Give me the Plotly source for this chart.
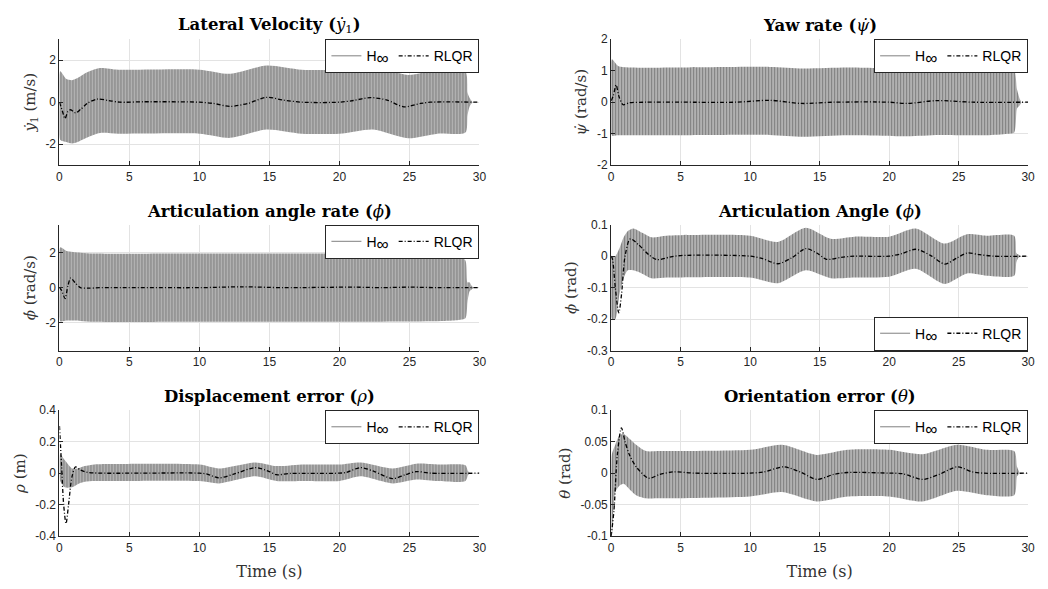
import plotly.graph_objects as go

# ---------------- data ----------------
X_TICKS = [0, 5, 10, 15, 20, 25, 30]
X_TICK_LABELS = ["0", "5", "10", "15", "20", "25", "30"]

# Panel 1: lateral velocity  (H-infinity envelope + RLQR)
T_YDOT_H = [0, 0.05, 0.5, 0.9, 1.3, 1.9, 2.9, 4.2, 10, 12.2, 14.8, 17.3, 20, 22.4, 24.9, 27, 29.0, 29.15, 29.3, 29.5]
UP_YDOT = [0, 1.47, 1.1, 1.05, 1.15, 1.4, 1.63, 1.55, 1.55, 1.35, 1.75, 1.55, 1.55, 1.72, 1.3, 1.55, 1.45, 0.46, 0.2, 0]
LO_YDOT = [0, -1.79, -1.9, -1.97, -1.9, -1.71, -1.47, -1.5, -1.5, -1.7, -1.3, -1.5, -1.5, -1.3, -1.72, -1.5, -1.45, -0.62, -0.2, 0]
T_YDOT_R = [0, 0.2, 0.4, 0.6, 0.8, 1.15, 1.5, 2.0, 2.7, 3.5, 4.3, 6, 10, 11, 12.2, 13.5, 14.8, 16, 17.3, 20, 21, 22.2, 23.4, 24.6, 25.8, 26.5, 30]
V_YDOT_R = [0, -0.4, -0.78, -0.45, -0.36, -0.51, -0.35, -0.05, 0.15, 0.08, 0.0, 0.02, 0.0, -0.06, -0.2, -0.05, 0.23, 0.1, 0.0, 0.0, 0.08, 0.22, 0.1, -0.22, -0.06, 0.0, 0.0]

# Panel 2: yaw rate
T_PSID_H = [0, 0.05, 0.5, 1.5, 5, 11.4, 13.8, 17, 21.3, 23.6, 27, 28.5, 29.0, 29.2, 29.4, 29.5]
UP_PSID = [0, 1.36, 1.15, 1.1, 1.1, 1.12, 1.07, 1.1, 1.07, 1.1, 1.1, 1.05, 1.0, 0.4, 0.1, 0]
LO_PSID = [0, -1.06, -1.05, -1.05, -1.05, -1.04, -1.1, -1.05, -1.08, -1.04, -1.05, -1.0, -0.96, -0.2, -0.1, 0]
T_PSID_R = [0, 0.15, 0.36, 0.55, 0.86, 1.3, 2.5, 5, 9, 11.4, 13.7, 16, 20, 21.3, 23.4, 26, 30]
V_PSID_R = [0.05, 0.2, 0.55, 0.2, -0.08, -0.02, 0.0, 0.0, 0.0, 0.06, -0.04, 0.0, 0.0, -0.04, 0.05, 0.0, 0.0]

# Panel 3: articulation angle rate
T_PHID_H = [0, 0.05, 0.5, 1.5, 2.5, 10, 20, 27.5, 28.5, 29.0, 29.15, 29.3, 29.45, 29.6]
UP_PHID = [0, 2.3, 2.1, 2.0, 1.95, 1.95, 1.95, 1.95, 1.85, 1.55, 0.3, 0.3, 0.1, 0]
LO_PHID = [0, -1.92, -1.88, -1.9, -1.95, -1.95, -1.95, -1.9, -1.85, -1.75, -0.8, -0.2, -0.1, 0]
T_PHID_R = [0, 0.15, 0.4, 0.6, 0.8, 1.1, 1.5, 2.0, 3, 10, 13, 16, 21, 23, 25, 27, 30]
V_PHID_R = [0, -0.15, -0.62, 0.1, 0.55, 0.3, 0.0, -0.03, 0.0, 0.0, 0.05, 0.0, 0.03, 0.0, 0.03, 0.0, 0.0]

# Panel 4: articulation angle
T_PHI_H = [0, 0.05, 0.3, 0.6, 0.9, 1.2, 1.6, 2.2, 2.9, 4, 10, 12.0, 14.0, 15.8, 17.5, 20, 21.9, 24.0, 25.6, 27, 29.0, 29.15, 29.3, 29.5]
UP_PHI = [0, 0.0, 0.0, 0.025, 0.06, 0.08, 0.088, 0.075, 0.06, 0.065, 0.065, 0.045, 0.09, 0.055, 0.062, 0.062, 0.088, 0.04, 0.07, 0.065, 0.065, 0.01, 0.005, 0]
LO_PHI = [0, -0.2, -0.2, -0.12, -0.07, -0.045, -0.045, -0.055, -0.07, -0.068, -0.068, -0.086, -0.045, -0.07, -0.068, -0.065, -0.04, -0.088, -0.055, -0.062, -0.062, -0.02, -0.005, 0]
T_PHI_R = [0, 0.1, 0.3, 0.55, 0.75, 1.0, 1.38, 2.0, 2.7, 3.3, 4.2, 5, 10, 10.9, 12.0, 13.0, 14.0, 14.8, 15.5, 16.5, 17.5, 20, 20.9, 21.9, 23, 24.0, 24.9, 25.6, 26.5, 27.5, 30]
V_PHI_R = [0, -0.01, -0.1, -0.18, -0.12, 0.0, 0.055, 0.035, 0.005, -0.011, -0.003, 0.002, 0.0, -0.008, -0.024, -0.005, 0.024, 0.01, -0.01, -0.004, 0.0, 0.0, 0.008, 0.022, 0.002, -0.025, -0.005, 0.01, 0.005, 0.0, 0.0]

# Panel 5: displacement error
T_RHO_H = [0, 0.05, 0.4, 0.9, 1.3, 1.8, 2.5, 3.5, 10, 11.4, 14, 15.5, 17.5, 20, 21.5, 23.8, 25.5, 27, 29.0, 29.2, 29.4]
UP_RHO = [0, 0.12, 0.08, 0.03, 0.03, 0.045, 0.055, 0.058, 0.055, 0.03, 0.068, 0.045, 0.055, 0.055, 0.068, 0.03, 0.06, 0.055, 0.05, 0.01, 0]
LO_RHO = [0, -0.05, -0.09, -0.09, -0.07, -0.055, -0.05, -0.05, -0.05, -0.065, -0.02, -0.05, -0.05, -0.05, -0.02, -0.065, -0.04, -0.05, -0.05, -0.01, 0]
T_RHO_R = [0, 0.15, 0.3, 0.47, 0.65, 0.9, 1.15, 1.5, 2.0, 3, 10, 10.5, 11.4, 12.5, 14, 15, 15.5, 16.5, 20, 20.5, 21.5, 22.5, 23.8, 24.7, 25.5, 26.5, 30]
V_RHO_R = [0.3, 0.05, -0.2, -0.32, -0.2, -0.02, 0.04, 0.02, 0.005, 0.0, 0.0, -0.005, -0.03, -0.005, 0.035, 0.01, -0.01, -0.002, 0.0, 0.005, 0.035, 0.01, -0.035, -0.01, 0.01, 0.0, 0.0]

# Panel 6: orientation error
T_TH_H = [0, 0.05, 0.3, 0.6, 0.9, 1.3, 1.8, 2.5, 3.5, 10, 12.3, 14.8, 17, 20, 22.4, 24.9, 27, 29.0, 29.2, 29.4]
UP_TH = [0, 0.03, 0.045, 0.06, 0.062, 0.055, 0.045, 0.035, 0.035, 0.037, 0.045, 0.029, 0.037, 0.037, 0.03, 0.045, 0.037, 0.035, 0.01, 0]
LO_TH = [0, -0.1, -0.03, -0.02, -0.017, -0.025, -0.035, -0.04, -0.04, -0.037, -0.03, -0.045, -0.037, -0.037, -0.045, -0.028, -0.035, -0.035, -0.005, 0]
T_TH_R = [0, 0.2, 0.45, 0.74, 1.0, 1.3, 1.8, 2.7, 3.5, 4.5, 6, 10, 11, 12.4, 13.6, 14.8, 16, 17, 20, 21, 22.4, 23.6, 24.9, 26, 26.8, 30]
V_TH_R = [-0.1, -0.06, 0.03, 0.072, 0.05, 0.03, 0.01, -0.008, -0.002, 0.002, 0.0, 0.0, 0.002, 0.01, 0.002, -0.01, -0.002, 0.001, 0.0, -0.001, -0.01, -0.002, 0.01, 0.002, 0.0, 0.0]

TITLES = [
    "<b>Lateral Velocity (</b><i>ẏ</i><sub>1</sub><b>)</b>",
    "<b>Yaw rate (</b><i>ψ̇</i><b>)</b>",
    "<b>Articulation angle rate (</b><i>ϕ̇</i><b>)</b>",
    "<b>Articulation Angle (</b><i>ϕ</i><b>)</b>",
    "<b>Displacement error (</b><i>ρ</i><b>)</b>",
    "<b>Orientation error (</b><i>θ</i><b>)</b>",
]
Y_LABELS = [
    "<i>ẏ</i><sub>1</sub> (m/s)",
    "<i>ψ̇</i> (rad/s)",
    "<i>ϕ̇</i> (rad/s)",
    "<i>ϕ</i> (rad)",
    "<i>ρ</i> (m)",
    "<i>θ</i> (rad)",
]
Y_RANGES = [[-3, 3], [-2, 2], [-3.6, 3.6], [-0.3, 0.1], [-0.4, 0.4], [-0.1, 0.1]]
Y_TICKS = [[-2, 0, 2], [-2, -1, 0, 1, 2], [-2, 0, 2], [-0.3, -0.2, -0.1, 0, 0.1],
           [-0.4, -0.2, 0, 0.2, 0.4], [-0.1, -0.05, 0, 0.05, 0.1]]
Y_TICK_LABELS = [["-2", "0", "2"], ["-2", "-1", "0", "1", "2"], ["-2", "0", "2"],
                 ["-0.3", "-0.2", "-0.1", "0", "0.1"], ["-0.4", "-0.2", "0", "0.2", "0.4"],
                 ["-0.1", "-0.05", "0", "0.05", "0.1"]]
SERIES_NAMES = ["H<sub><span style='font-size:17px'>∞</span></sub>", "RLQR"]

HINF = [(T_YDOT_H, UP_YDOT, LO_YDOT), (T_PSID_H, UP_PSID, LO_PSID), (T_PHID_H, UP_PHID, LO_PHID),
        (T_PHI_H, UP_PHI, LO_PHI), (T_RHO_H, UP_RHO, LO_RHO), (T_TH_H, UP_TH, LO_TH)]
RLQR = [(T_YDOT_R, V_YDOT_R), (T_PSID_R, V_PSID_R), (T_PHID_R, V_PHID_R),
        (T_PHI_R, V_PHI_R), (T_RHO_R, V_RHO_R), (T_TH_R, V_TH_R)]

# ---------------- layout ----------------
W, H = 1048, 589
X_DOM = [[57 / W, 481 / W], [614 / W, 1035 / W]]
Y_DOM = [[1 - 162 / H, 1 - 33 / H], [1 - 352 / H, 1 - 223 / H], [1 - 542 / H, 1 - 413 / H]]
TITLE_Y = [1 - 19 / H, 1 - 209 / H, 1 - 399 / H]

SERIF = "DejaVu Serif, Liberation Serif, serif"
SANS = "Liberation Sans, Arial, sans-serif"
AX_COLOR = "#262626"
GRID = "#e3e3e3"
HINF_COLOR = "#808080"

fig = go.Figure()
annotations = []

for i in range(6):
    r, c = divmod(i, 2)
    sfx = "" if i == 0 else str(i + 1)
    xa, ya, lg = "x" + sfx, "y" + sfx, "legend" + sfx
    th, up, lo = HINF[i]
    tr, vr = RLQR[i]

    fig.add_trace(go.Scatter(x=th, y=lo, xaxis=xa, yaxis=ya, mode="lines",
                             line=dict(width=0, shape="spline", smoothing=0.7, color=HINF_COLOR),
                             hoverinfo="skip", showlegend=False, legend=lg))
    fig.add_trace(go.Scatter(x=th, y=up, xaxis=xa, yaxis=ya, mode="lines",
                             line=dict(width=0, shape="spline", smoothing=0.7, color=HINF_COLOR),
                             fill="tonexty", fillcolor="rgba(0,0,0,0)",
                             fillpattern=dict(shape="|", size=3, solidity=0.6,
                                              fgcolor="#7f7f7f", bgcolor="#d2d2d2",
                                              fillmode="replace"),
                             hoverinfo="skip", showlegend=False, legend=lg))
    # legend entry for the H-infinity response
    fig.add_trace(go.Scatter(x=[None], y=[None], xaxis=xa, yaxis=ya, mode="lines",
                             line=dict(width=1, color=HINF_COLOR), name=SERIES_NAMES[0],
                             legend=lg, showlegend=True))
    fig.add_trace(go.Scatter(x=tr, y=vr, xaxis=xa, yaxis=ya, mode="lines",
                             line=dict(width=1.3, color="black", dash="4px,2px,1px,2px",
                                       shape="spline", smoothing=0.8),
                             name=SERIES_NAMES[1], legend=lg, showlegend=True))

    xaxis = dict(domain=X_DOM[c], anchor=ya, range=[0, 30], tickmode="array",
                 tickvals=X_TICKS, ticktext=X_TICK_LABELS, showgrid=True, gridcolor=GRID,
                 gridwidth=1, zeroline=False, showline=True, linecolor=AX_COLOR, linewidth=1,
                 ticks="inside", ticklen=4, tickcolor=AX_COLOR, mirror=False,
                 tickfont=dict(family=SANS, size=12, color=AX_COLOR))
    if r == 2:
        xaxis["title"] = dict(text="Time (s)", font=dict(family=SERIF, size=16, color="#333333"),
                              standoff=12)
    yaxis = dict(domain=Y_DOM[r], anchor=xa, range=Y_RANGES[i], tickmode="array",
                 tickvals=Y_TICKS[i], ticktext=Y_TICK_LABELS[i], showgrid=True, gridcolor=GRID,
                 gridwidth=1, zeroline=False, showline=True, linecolor=AX_COLOR, linewidth=1,
                 ticks="inside", ticklen=4, tickcolor=AX_COLOR, mirror=False,
                 tickfont=dict(family=SANS, size=12, color=AX_COLOR),
                 title=dict(text=Y_LABELS[i], font=dict(family=SERIF, size=15, color="#333333"),
                            standoff=6))
    fig.layout["xaxis" + sfx] = xaxis
    fig.layout["yaxis" + sfx] = yaxis

    bottom_legend = (i == 3)
    fig.layout[lg] = dict(x=X_DOM[c][1], xanchor="right",
                          y=Y_DOM[r][0] if bottom_legend else Y_DOM[r][1],
                          yanchor="bottom" if bottom_legend else "top",
                          orientation="h", bgcolor="white", bordercolor=AX_COLOR, borderwidth=1,
                          font=dict(family=SANS, size=14, color="black"),
                          itemwidth=30, tracegroupgap=0, traceorder="normal")

    annotations.append(dict(text=TITLES[i], xref="paper", yref="paper",
                            x=(X_DOM[c][0] + X_DOM[c][1]) / 2, y=TITLE_Y[r],
                            xanchor="center", yanchor="middle", showarrow=False,
                            font=dict(family=SERIF, size=16.5, color="black")))

fig.update_layout(width=W, height=H, margin=dict(l=0, r=0, t=0, b=0),
                  paper_bgcolor="white", plot_bgcolor="white",
                  annotations=annotations, hovermode=False)

fig.write_html("out.html")
